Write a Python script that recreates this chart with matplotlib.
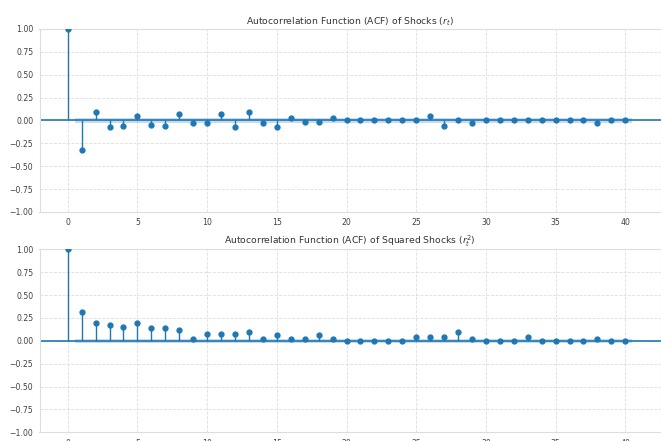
import numpy as np
import matplotlib
matplotlib.use("Agg")
import matplotlib.pyplot as plt

lags = list(range(41))

acf_shocks = [1.0, -0.32, 0.095, -0.075, -0.055, 0.044, -0.047, -0.055, 0.073, -0.025,
              -0.025, 0.073, -0.076, 0.095, -0.022, -0.069, 0.026, -0.018, -0.02, 0.026,
              0.0, 0.0, 0.0, 0.004, 0.0, 0.004, 0.044, -0.055, 0.0, -0.025,
              0.004, 0.004, 0.0, 0.004, 0.0, 0.004, 0.004, 0.0, -0.025, 0.004, 0.004]

acf_sq_shocks = [1.0, 0.317, 0.19, 0.168, 0.146, 0.197, 0.139, 0.139, 0.117, 0.019,
                 0.07, 0.07, 0.07, 0.092, 0.019, 0.066, 0.019, 0.019, 0.066, 0.019,
                 -0.007, -0.007, -0.007, -0.007, -0.007, 0.044, 0.044, 0.044, 0.092, 0.022,
                 -0.007, -0.007, -0.007, 0.044, -0.007, -0.007, -0.007, -0.007, 0.022, -0.007, -0.007]

conf_half_shocks = 0.022
conf_half_sq = 0.024

titles = ["Autocorrelation Function (ACF) of Shocks ($r_t$)",
          "Autocorrelation Function (ACF) of Squared Shocks ($r_t^2$)"]
yticks = [-1.0, -0.75, -0.5, -0.25, 0.0, 0.25, 0.5, 0.75, 1.0]
xticks = [0, 5, 10, 15, 20, 25, 30, 35, 40]

W, H = 661, 441
fig = plt.figure(figsize=(W / 100, H / 100), dpi=100)

C0 = "#1f77b4"
FS = 5.6

def add_axes(top_px, bottom_px, left_px=39.5, right_px=660.5):
    return fig.add_axes([left_px / W, 1 - bottom_px / H, (right_px - left_px) / W, (bottom_px - top_px) / H])

axes = [add_axes(29, 212), add_axes(249.3, 432.3)]
series = [acf_shocks, acf_sq_shocks]
halfs = [conf_half_shocks, conf_half_sq]

for ax, vals, half, title in zip(axes, series, halfs, titles):
    ax.set_facecolor("white")
    ax.vlines(lags, 0, vals, color=C0, linewidth=1.0, zorder=3)
    ax.axhline(0, color=C0, linewidth=1.2, zorder=2)
    ax.plot(lags, vals, marker="o", markersize=3.5, linestyle="None", color=C0, zorder=4)
    band_x = np.array(lags[1:], dtype=float)
    band_x[0] -= 0.5
    band_x[-1] += 0.5
    ax.fill_between(band_x, -half, half, color=C0, alpha=0.25, linewidth=0, zorder=1)
    ax.margins(x=0.05)
    ax.set_ylim(-1, 1)
    ax.set_yticks(yticks)
    ax.set_xticks(xticks)
    ax.set_yticklabels([f"{v:.2f}".replace("-", "\u2212") for v in yticks])
    ax.set_title(title, fontsize=6.7, color=".2", pad=3.5)
    ax.tick_params(axis="both", length=0, labelsize=FS, labelcolor=".25", pad=4.5)
    ax.grid(True, color="#dedede", linestyle="--", linewidth=0.6)
    ax.set_axisbelow(True)
    for s in ax.spines.values():
        s.set_color("#dddddd")
        s.set_linewidth(0.8)

fig.savefig("out.png", dpi=100)
